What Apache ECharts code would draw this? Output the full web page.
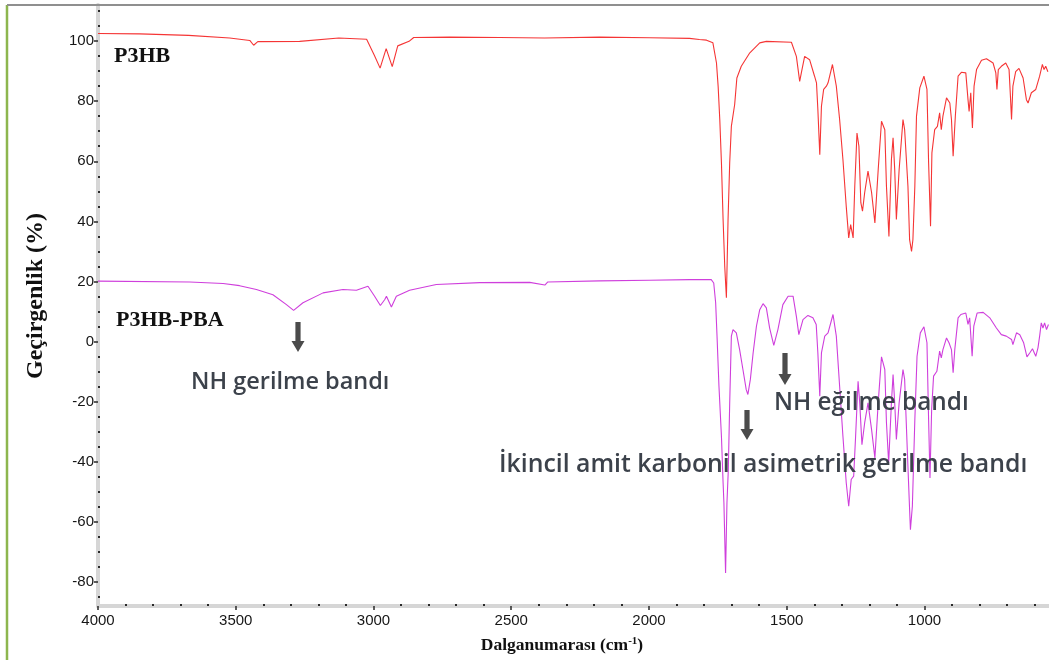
<!DOCTYPE html>
<html>
<head>
<meta charset="utf-8">
<script src="https://cdn.jsdelivr.net/npm/echarts@6/dist/echarts.min.js"></script>
<style>
  html, body { margin: 0; padding: 0; background: #fff; }
  #chart { width: 1049px; height: 660px; }
</style>
</head>
<body>
<div id="chart"></div>
<script>
// FTIR spectra: wavenumber (cm-1) vs. transmittance (%)
const p3hbWavenumbers = [4000, 3849, 3671, 3522, 3449, 3435, 3420, 3268, 3126, 3025, 2997, 2976, 2954, 2932, 2912, 2871, 2854, 2724, 2542, 2379, 2179, 1998, 1853, 1817, 1791, 1768, 1755, 1749, 1743, 1737, 1731, 1725, 1719, 1713, 1707, 1701, 1689, 1681, 1665, 1634, 1598, 1574, 1483, 1465, 1453, 1447, 1435, 1417, 1399, 1392, 1387, 1380, 1374, 1366, 1356, 1350, 1334, 1320, 1308, 1296, 1284, 1275, 1268, 1259, 1253, 1245, 1238, 1231, 1225, 1217, 1205, 1192, 1180, 1168, 1156, 1144, 1138, 1129, 1120, 1114, 1108, 1102, 1092, 1078, 1072, 1060, 1054, 1047, 1042, 1035, 1029, 1017, 1002, 991, 985, 978, 973, 963, 953, 945, 939, 933, 920, 908, 902, 896, 888, 878, 866, 850, 842, 838, 832, 826, 820, 811, 793, 775, 751, 741, 737, 732, 721, 705, 693, 688, 684, 679, 669, 657, 642, 630, 624, 612, 596, 582, 572, 566, 560, 552];
const p3hbTransmittance = [102.5, 102.4, 101.9, 101.0, 100.2, 98.6, 99.8, 99.9, 101.0, 100.6, 95.3, 91.0, 97.5, 91.5, 98.4, 99.9, 101.2, 101.3, 101.2, 101.0, 101.3, 101.1, 100.9, 100.5, 100.3, 99.4, 92.7, 85.0, 73.9, 59.5, 40.6, 25.0, 14.6, 40.6, 59.5, 71.6, 78.9, 87.7, 91.6, 96.1, 99.4, 99.9, 99.6, 94.9, 86.6, 89.4, 94.9, 93.8, 88.3, 86.1, 77.2, 62.2, 78.3, 83.9, 85.0, 86.1, 92.2, 85.0, 73.9, 60.6, 45.0, 34.5, 38.9, 34.5, 51.7, 69.4, 65.0, 46.2, 43.4, 49.6, 56.7, 49.6, 39.5, 57.2, 73.3, 70.5, 51.7, 35.0, 60.6, 67.8, 57.2, 40.6, 57.2, 73.9, 70.5, 51.7, 33.9, 30.0, 33.9, 51.7, 75.0, 84.4, 88.3, 83.9, 59.5, 38.4, 62.8, 70.5, 71.6, 76.1, 70.5, 75.0, 81.1, 79.4, 73.9, 61.7, 75.0, 88.3, 89.6, 89.4, 80.5, 76.6, 82.8, 71.1, 85.0, 90.5, 93.6, 94.1, 92.7, 89.4, 83.9, 90.5, 91.6, 92.7, 90.5, 81.6, 73.9, 85.0, 89.8, 90.9, 87.7, 80.5, 79.4, 82.8, 83.9, 88.3, 92.2, 90.5, 91.6, 89.8];

const pbaWavenumbers = [4000, 3667, 3546, 3486, 3425, 3365, 3316, 3290, 3256, 3183, 3111, 3062, 3020, 2996, 2975, 2959, 2953, 2935, 2917, 2869, 2772, 2614, 2433, 2378, 2368, 2180, 1998, 1853, 1817, 1774, 1765, 1758, 1753, 1746, 1737, 1731, 1728, 1722, 1717, 1712, 1707, 1701, 1695, 1689, 1683, 1671, 1659, 1647, 1641, 1632, 1622, 1610, 1598, 1586, 1574, 1562, 1547, 1532, 1514, 1495, 1477, 1465, 1456, 1441, 1423, 1405, 1393, 1387, 1380, 1374, 1362, 1350, 1332, 1320, 1308, 1296, 1284, 1275, 1266, 1257, 1250, 1241, 1235, 1227, 1217, 1205, 1192, 1180, 1168, 1156, 1144, 1138, 1130, 1120, 1114, 1108, 1102, 1092, 1078, 1072, 1062, 1054, 1051, 1044, 1035, 1027, 1015, 1002, 991, 985, 980, 974, 967, 955, 945, 939, 933, 920, 911, 902, 896, 890, 878, 868, 850, 842, 836, 827, 821, 809, 787, 763, 739, 721, 703, 684, 679, 666, 654, 640, 628, 618, 608, 596, 588, 582, 576, 570, 564, 557, 550];
const pbaTransmittance = [20.1, 19.8, 19.3, 18.6, 17.3, 15.6, 12.3, 10.4, 12.9, 16.2, 17.3, 17.1, 18.4, 15.1, 12.0, 14.0, 15.1, 11.5, 15.1, 17.1, 19.0, 19.6, 19.7, 18.8, 19.8, 20.2, 20.4, 20.6, 20.6, 20.6, 19.5, 12.9, 1.8, -14.9, -31.5, -47.0, -53.7, -77.0, -53.7, -42.6, -20.4, 1.8, 4.0, 3.4, 2.9, -2.7, -9.3, -16.0, -17.6, -12.6, -3.8, 5.1, 10.6, 12.6, 11.2, 4.5, -1.3, 4.0, 12.3, 15.1, 15.1, 8.4, 2.3, 7.3, 8.7, 7.9, 5.7, -3.8, -18.2, -3.8, 1.8, 2.9, 9.0, 1.8, -14.9, -31.5, -47.0, -54.8, -45.9, -44.8, -31.5, -13.2, -20.4, -34.3, -27.0, -20.4, -29.3, -38.7, -20.4, -5.1, -9.3, -27.0, -40.4, -20.4, -11.0, -20.4, -32.6, -20.4, -9.3, -12.6, -37.0, -55.9, -62.6, -54.8, -26.0, -4.9, 2.9, 4.9, -0.4, -26.0, -45.4, -22.6, -11.5, -9.9, -3.2, -5.4, -2.7, 1.2, -0.4, -2.7, -10.4, -2.7, 7.9, 9.0, 9.5, 5.7, 7.9, -4.9, 5.1, 9.5, 9.7, 7.9, 4.5, 2.3, 1.8, 0.7, -1.0, 2.9, 2.3, -0.4, -5.1, -3.8, -2.4, -4.9, -2.1, 1.8, 6.2, 4.5, 6.2, 4.0, 5.7];

const xMajorTicks = [4000, 3500, 3000, 2500, 2000, 1500, 1000];
const xMinorTicks = [3900, 3800, 3700, 3600, 3400, 3300, 3200, 3100, 2900, 2800, 2700, 2600, 2400, 2300, 2200, 2100, 1900, 1800, 1700, 1600, 1400, 1300, 1200, 1100, 900, 800, 700, 600];
const yMajorTicks = [-80, -60, -40, -20, 0, 20, 40, 60, 80, 100];
const yMinorTicks = [-85, -75, -70, -65, -55, -50, -45, -35, -30, -25, -15, -10, -5, 5, 10, 15, 25, 30, 35, 45, 50, 55, 65, 70, 75, 85, 90, 95, 105, 110];

const zip = (xs, ys) => xs.map((x, i) => [x, ys[i]]);

const X_MIN = 548, X_MAX = 4000, Y_MIN = -88, Y_MAX = 112;
const bandColor = '#d6d6d6';
const tickColor = '#2a2a2a';
const labelFont = { fontFamily: 'Liberation Sans, Arial, sans-serif', fontSize: 15, color: '#161616', formatter: v => String(v) };
const serif = 'Liberation Serif, Times New Roman, serif';

function downArrow(cx, top, tip) {
  const shaft = 2.6, head = 6.5, headLen = 11;
  return {
    type: 'polygon',
    shape: { points: [
      [cx - shaft, top], [cx + shaft, top], [cx + shaft, tip - headLen],
      [cx + head, tip - headLen], [cx, tip], [cx - head, tip - headLen],
      [cx - shaft, tip - headLen]
    ] },
    style: { fill: '#4b4b4b' },
    z: 20
  };
}

function annotation(x, y, text, size) {
  return {
    type: 'text', x: x, y: y, z: 20,
    style: {
      text: text, align: 'left', verticalAlign: 'middle',
      fontFamily: 'Open Sans, Noto Sans, sans-serif', fontWeight: 600,
      fontSize: size, fill: '#3c424b'
    }
  };
}

const chart = echarts.init(document.getElementById('chart'), null, { renderer: 'canvas' });

chart.setOption({
  animation: false,
  backgroundColor: '#ffffff',
  grid: { left: 98, right: 0, top: 5, bottom: 54, containLabel: false },
  xAxis: [
    {
      type: 'value', inverse: true, min: X_MIN, max: X_MAX, position: 'bottom',
      axisLine: { show: true, onZero: false, lineStyle: { color: bandColor, width: 4 } },
      axisTick: { show: true, customValues: xMajorTicks, length: 4, inside: false, lineStyle: { color: tickColor, width: 1.5 } },
      axisLabel: Object.assign({ show: true, customValues: xMajorTicks, margin: 7 }, labelFont),
      splitLine: { show: false }
    },
    {
      type: 'value', inverse: true, min: X_MIN, max: X_MAX, position: 'bottom',
      axisLine: { show: false, onZero: false },
      axisTick: { show: true, customValues: xMinorTicks, length: 2, inside: true, lineStyle: { color: tickColor, width: 2 } },
      axisLabel: { show: false },
      splitLine: { show: false }
    }
  ],
  yAxis: [
    {
      type: 'value', min: Y_MIN, max: Y_MAX, position: 'left',
      axisLine: { show: true, onZero: false, lineStyle: { color: bandColor, width: 4 } },
      axisTick: { show: true, customValues: yMajorTicks, length: 4, inside: false, lineStyle: { color: tickColor, width: 1.5 } },
      axisLabel: Object.assign({ show: true, customValues: yMajorTicks, margin: 4 }, labelFont),
      splitLine: { show: false }
    },
    {
      type: 'value', min: Y_MIN, max: Y_MAX, position: 'left',
      axisLine: { show: false, onZero: false },
      axisTick: { show: true, customValues: yMinorTicks, length: 2, inside: true, lineStyle: { color: tickColor, width: 2 } },
      axisLabel: { show: false },
      splitLine: { show: false }
    }
  ],
  series: [
    {
      name: 'P3HB', type: 'line', xAxisIndex: 0, yAxisIndex: 0,
      data: zip(p3hbWavenumbers, p3hbTransmittance),
      showSymbol: false, smooth: false,
      lineStyle: { color: '#f53535', width: 1.1 }, z: 5
    },
    {
      name: 'P3HB-PBA', type: 'line', xAxisIndex: 0, yAxisIndex: 0,
      data: zip(pbaWavenumbers, pbaTransmittance),
      showSymbol: false, smooth: false,
      lineStyle: { color: '#cf3fdc', width: 1.1 }, z: 5
    }
  ],
  graphic: [
    // frame: green left rule and grey top rule
    { type: 'line', shape: { x1: 7, y1: 5, x2: 7, y2: 660 }, style: { stroke: '#8db64e', lineWidth: 2.5 }, z: 30 },
    { type: 'line', shape: { x1: 7, y1: 5, x2: 1049, y2: 5 }, style: { stroke: '#8f8f8f', lineWidth: 2 }, z: 30 },
    // axis titles
    {
      type: 'text', x: 36, y: 296, rotation: Math.PI / 2,
      style: { text: 'Geçirgenlik (%)', fontFamily: serif, fontWeight: 'bold', fontSize: 24, fill: '#111', align: 'center', verticalAlign: 'middle' }
    },
    {
      type: 'text', x: 562, y: 645,
      style: {
        text: 'Dalganumarası (cm{sup|-1})',
        fontFamily: serif, fontWeight: 'bold', fontSize: 17.5, fill: '#111',
        align: 'center', verticalAlign: 'middle',
        rich: { sup: { fontFamily: serif, fontWeight: 'bold', fontSize: 11, fill: '#111', verticalAlign: 'top', padding: [0, 0, 7, 0] } }
      }
    },
    // series names
    { type: 'text', x: 114, y: 56, style: { text: 'P3HB', fontFamily: serif, fontWeight: 'bold', fontSize: 22, fill: '#111', align: 'left', verticalAlign: 'middle' }, z: 20 },
    { type: 'text', x: 116, y: 320, style: { text: 'P3HB-PBA', fontFamily: serif, fontWeight: 'bold', fontSize: 22, fill: '#111', align: 'left', verticalAlign: 'middle' }, z: 20 },
    // band annotations
    downArrow(298, 322, 352),
    annotation(191, 382, 'NH gerilme bandı', 23.5),
    downArrow(785, 353, 385),
    annotation(774, 403, 'NH eğilme bandı', 24.3),
    downArrow(747, 410, 440),
    annotation(499, 465, 'İkincil amit karbonil asimetrik gerilme bandı', 24.8)
  ]
});
</script>
</body>
</html>
